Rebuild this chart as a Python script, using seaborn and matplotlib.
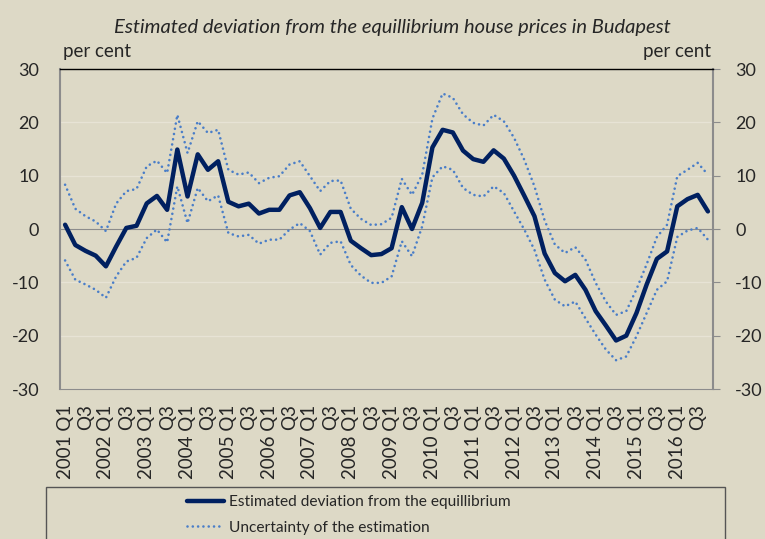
import numpy as np
import pandas as pd
import matplotlib
matplotlib.use("Agg")
import matplotlib.pyplot as plt
from matplotlib.patches import Rectangle
from matplotlib.lines import Line2D
import seaborn as sns

# -----------------------------
# DATA (quarterly 2001 Q1 - 2016 Q4)
# -----------------------------
years = list(range(2001, 2017))
quarters = [f"{y} Q{q}" for y in years for q in range(1, 5)]

deviation = [0.8, -3.0, -4.1, -5.0, -7.0, -3.3, 0.2, 0.6, 4.8, 6.2, 3.6, 14.9, 6.1, 14.0, 11.1, 12.7,
             5.1, 4.25, 4.75, 2.9, 3.6, 3.6, 6.3, 6.9, 3.9, 0.2, 3.2, 3.2, -2.2, -3.6, -4.9, -4.7,
             -3.6, 4.1, 0.0, 4.9, 15.3, 18.6, 18.1, 14.7, 13.1, 12.6, 14.75, 13.2, 10.0, 6.25, 2.4, -4.6,
             -8.25, -9.8, -8.6, -11.4, -15.4, -18.1, -20.9, -20.0, -15.75, -10.4, -5.6, -4.2, 4.25, 5.6, 6.4, 3.3]

upper = [8.3, 3.8, 2.4, 1.4, -0.4, 4.75, 7.1, 7.5, 11.75, 12.8, 10.5, 21.4, 14.25, 20.2, 18.0, 18.6,
         11.1, 10.2, 10.6, 8.6, 9.6, 9.9, 12.1, 12.7, 9.9, 7.1, 9.0, 9.1, 3.8, 1.9, 0.75, 0.9,
         2.1, 9.4, 6.4, 10.2, 20.7, 25.4, 24.6, 21.5, 19.9, 19.4, 21.4, 20.2, 17.1, 13.0, 8.0, 1.6,
         -2.9, -4.5, -3.4, -5.75, -10.1, -13.6, -16.1, -15.4, -11.3, -6.6, -1.5, 0.8, 9.9, 11.1, 12.4, 10.2]

lower = [-5.9, -9.5, -10.4, -11.4, -12.9, -8.9, -6.1, -5.4, -1.7, -0.1, -2.5, 8.0, 1.1, 7.7, 5.2, 6.3,
         -0.75, -1.4, -1.1, -2.75, -2.0, -2.0, -0.1, 1.1, -0.4, -4.8, -2.6, -2.3, -6.75, -8.75, -10.1, -10.1,
         -8.9, -2.3, -5.1, 0.5, 9.7, 11.75, 11.1, 7.7, 6.4, 6.1, 8.0, 6.75, 3.3, -0.1, -3.9, -9.5,
         -13.25, -14.5, -13.6, -16.75, -19.8, -22.6, -24.6, -23.9, -20.1, -15.75, -11.4, -9.8, -1.5, -0.3, 0.2, -2.0]

tick_labels = [q if q.endswith("Q1") else q.split(" ")[1] for q in quarters]
y_ticks = [-30, -20, -10, 0, 10, 20, 30]

title = "Estimated deviation from the equillibrium house prices in Budapest"
label_main = "Estimated deviation from the equillibrium"
label_band = "Uncertainty of the estimation"

# -----------------------------
# STYLE
# -----------------------------
BG = "#DDD9C6"
NAVY = "#002060"
BLUE = "#4A7EC8"
GREY = "#8C8C8C"
DOTS = (0, (0.01, 2.0))

sns.set_style("white")
plt.rcParams["font.family"] = ["Lato", "DejaVu Sans"]
plt.rcParams["font.size"] = 13
plt.rcParams["axes.unicode_minus"] = False

df = pd.DataFrame({"idx": np.arange(len(quarters)), "deviation": deviation,
                   "upper": upper, "lower": lower})

fig = plt.figure(figsize=(7.65, 5.39), dpi=100, facecolor=BG)
ax = fig.add_axes([60 / 765, 1 - 389 / 539, 653 / 765, 320 / 539])
ax.set_facecolor(BG)

for v in y_ticks:
    if v != 0:
        ax.axhline(v, color="#E7E3D5", lw=1.0, zorder=0)

sns.lineplot(data=df, x="idx", y="upper", ax=ax, color=BLUE, lw=1.9,
             linestyle=DOTS, dash_capstyle="round", zorder=3)
sns.lineplot(data=df, x="idx", y="lower", ax=ax, color=BLUE, lw=1.9,
             linestyle=DOTS, dash_capstyle="round", zorder=3)
sns.lineplot(data=df, x="idx", y="deviation", ax=ax, color=NAVY, lw=3.2, zorder=4)

ax.set_xlim(-0.5, len(quarters) - 0.5)
ax.set_ylim(-30, 30)
ax.set_xlabel("")
ax.set_ylabel("")

# zero line with category tick marks
ax.spines["bottom"].set_position(("data", 0))
ax.spines["bottom"].set_color(GREY)
ax.spines["bottom"].set_zorder(2)
ax.set_xticks(np.arange(len(quarters) + 1) - 0.5)
ax.set_xticklabels([])
ax.tick_params(axis="x", length=5, width=1, color=GREY, direction="out")

# bottom axis carrying the quarter labels
sec = ax.secondary_xaxis(0)
sec.set_xticks(np.arange(0, len(quarters), 2))
sec.set_xticklabels(tick_labels[::2], rotation=90, fontsize=13.5)
sec.tick_params(length=0, pad=11)
sec.spines["bottom"].set_color(GREY)

ax.spines["top"].set_color("black")
ax.spines["top"].set_linewidth(1.0)
ax.spines["left"].set_color(GREY)
ax.spines["right"].set_color(GREY)
ax.spines["left"].set_linewidth(1.5)
ax.spines["right"].set_linewidth(1.5)

ax.set_yticks(y_ticks)
ax.tick_params(axis="y", length=5, color=GREY, labelsize=13, pad=10)

ax_r = ax.secondary_yaxis("right")
ax_r.set_yticks(y_ticks)
ax_r.tick_params(length=5, color=GREY, labelsize=13, pad=11)
ax_r.spines["right"].set_visible(False)

fig.text(392 / 765, 1 - 27 / 539, title, ha="center", va="center",
         fontsize=14.5, style="italic")
fig.text(63 / 765, 1 - 51 / 539, "per cent", ha="left", va="center", fontsize=13.5)
fig.text(711 / 765, 1 - 51 / 539, "per cent", ha="right", va="center", fontsize=13.5)

# legend box running off the bottom edge
fig.patches.append(Rectangle((46 / 765, -0.05), 679 / 765, 0.05 + 52 / 539,
                             transform=fig.transFigure, fill=False,
                             edgecolor="#555555", lw=1.0))
handles = [Line2D([], [], color=NAVY, lw=3.2),
           Line2D([], [], color=BLUE, lw=1.9, linestyle=DOTS, dash_capstyle="round")]
fig.legend(handles, [label_main, label_band], loc="center left",
           bbox_to_anchor=(187 / 765, 1 - 515 / 539), frameon=False,
           prop={"size": 11.2}, handlelength=2.4, handletextpad=0.3,
           labelspacing=0.75, borderpad=0, borderaxespad=0)

fig.savefig("out.png", dpi=100, facecolor=BG)
